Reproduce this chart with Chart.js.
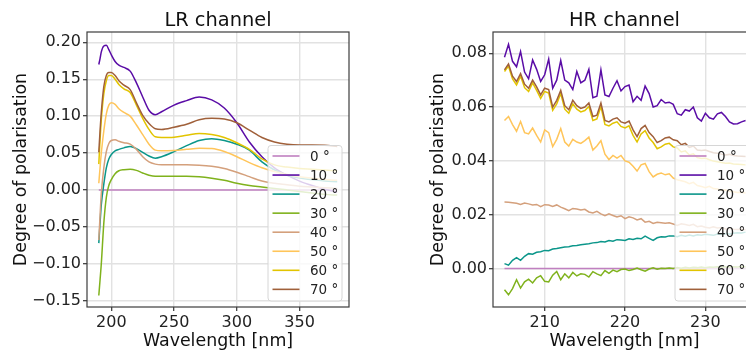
<!DOCTYPE html>
<html>
<head>
<meta charset="utf-8">
<script src="https://cdn.jsdelivr.net/npm/chart.js@4.4.1/dist/chart.umd.min.js"></script>
<style>
  html, body { margin: 0; padding: 0; background: #fff; overflow: hidden; width: 746px; height: 354px; }
  #lr { position: absolute; left: 0; top: 0; }
  #hr { position: absolute; left: 417px; top: 0; }
</style>
</head>
<body>
<canvas id="lr" width="360" height="354"></canvas>
<canvas id="hr" width="350" height="354"></canvas>
<script>
// ---- data ----
const angles = ['0 °', '10 °', '20 °', '30 °', '40 °', '50 °', '60 °', '70 °'];
const colours = ['#c080c0', '#5a0ca6', '#0b968a', '#7fb21c', '#d4a07c', '#ffc55a', '#e2c400', '#a0603a'];

// LR channel
const lrWave = [190, 191, 192, 194, 196, 198, 200, 203, 206, 210, 215, 220, 225, 230, 235, 240,
  250, 260, 270, 280, 290, 300, 310, 320, 330, 340, 350, 360, 370, 380];
const lr0 = [0, 0, 0, 0, 0, 0, 0, 0, 0, 0, 0, 0, 0, 0, 0, 0, 0, 0, 0, 0, 0, 0, 0, 0, 0, 0, 0, 0, 0, 0];
const lr10 = [0.170, 0.178, 0.187, 0.195, 0.196, 0.190, 0.183, 0.174, 0.169, 0.166, 0.161, 0.145, 0.126, 0.108, 0.102, 0.106,
  0.115, 0.121, 0.126, 0.122, 0.111, 0.091, 0.065, 0.045, 0.030, 0.020, 0.012, 0.006, 0.001, -0.003];
const lr20 = [-0.072, -0.045, -0.020, 0.008, 0.030, 0.042, 0.048, 0.053, 0.055, 0.057, 0.059, 0.056, 0.051, 0.046, 0.043, 0.045,
  0.052, 0.060, 0.067, 0.0695, 0.067, 0.062, 0.054, 0.038, 0.027, 0.020, 0.016, 0.014, 0.012, 0.011];
const lr30 = [-0.143, -0.122, -0.100, -0.045, -0.010, 0.006, 0.014, 0.022, 0.026, 0.0275, 0.028, 0.0265, 0.023, 0.020, 0.0185, 0.0185,
  0.0185, 0.0185, 0.018, 0.016, 0.013, 0.009, 0.006, 0.004, 0.002, 0.000, -0.002, -0.004, -0.006, -0.007];
const lr40 = [-0.068, -0.035, -0.005, 0.030, 0.052, 0.063, 0.067, 0.068, 0.066, 0.064, 0.062, 0.055, 0.045, 0.038, 0.035, 0.034,
  0.034, 0.034, 0.0335, 0.032, 0.029, 0.024, 0.018, 0.012, 0.009, 0.007, 0.005, 0.004, 0.003, 0.002];
const lr50 = [0.009, 0.030, 0.050, 0.080, 0.103, 0.115, 0.118, 0.116, 0.110, 0.105, 0.100, 0.088, 0.075, 0.062, 0.054, 0.053,
  0.0535, 0.055, 0.0565, 0.056, 0.052, 0.045, 0.037, 0.030, 0.025, 0.021, 0.018, 0.016, 0.014, 0.013];
const lr60 = [0.035, 0.068, 0.095, 0.130, 0.148, 0.155, 0.155, 0.150, 0.143, 0.137, 0.132, 0.115, 0.097, 0.082, 0.072, 0.071,
  0.0715, 0.074, 0.0765, 0.075, 0.071, 0.064, 0.055, 0.042, 0.034, 0.031, 0.029, 0.028, 0.027, 0.026];
const lr70 = [0.051, 0.080, 0.105, 0.140, 0.155, 0.159, 0.159, 0.155, 0.148, 0.142, 0.136, 0.118, 0.101, 0.090, 0.083, 0.082,
  0.085, 0.089, 0.095, 0.097, 0.096, 0.091, 0.081, 0.071, 0.065, 0.062, 0.061, 0.061, 0.0605, 0.059];
const lrYTicks = [-0.15, -0.10, -0.05, 0.00, 0.05, 0.10, 0.15, 0.20];
const lrXTicks = [200, 250, 300, 350];

// HR channel
const hrWave = [205.0, 205.5, 206.0, 206.5, 207.0, 207.5, 208.0, 208.5, 209.0, 209.5,
  210.0, 210.5, 211.0, 211.5, 212.0, 212.5, 213.0, 213.5, 214.0, 214.5,
  215.0, 215.5, 216.0, 216.5, 217.0, 217.5, 218.0, 218.5, 219.0, 219.5,
  220.0, 220.5, 221.0, 221.5, 222.0, 222.5, 223.0, 223.5, 224.0, 224.5,
  225.0, 225.5, 226.0, 226.5, 227.0, 227.5, 228.0, 228.5, 229.0, 229.5,
  230.0, 230.5, 231.0, 231.5, 232.0, 232.5, 233.0, 233.5, 234.0, 234.5, 235.0];
const hr0 = [0, 0, 0, 0, 0, 0, 0, 0, 0, 0, 0, 0, 0, 0, 0, 0, 0, 0, 0, 0, 0, 0, 0, 0, 0, 0, 0, 0, 0, 0,
  0, 0, 0, 0, 0, 0, 0, 0, 0, 0, 0, 0, 0, 0, 0, 0, 0, 0, 0, 0, 0, 0, 0, 0, 0, 0, 0, 0, 0, 0, 0];
const hr10 = [0.0785, 0.0833, 0.0770, 0.0750, 0.0806, 0.0730, 0.0705, 0.0775, 0.0740, 0.0695,
  0.0720, 0.0778, 0.0670, 0.0700, 0.0773, 0.0700, 0.0690, 0.0665, 0.0732, 0.0690,
  0.0700, 0.0740, 0.0635, 0.0640, 0.0738, 0.0645, 0.0639, 0.0670, 0.0698, 0.0660,
  0.0676, 0.0682, 0.0620, 0.0640, 0.0625, 0.0678, 0.0650, 0.0600, 0.0605, 0.0628,
  0.0615, 0.0618, 0.0610, 0.0575, 0.0570, 0.0590, 0.0585, 0.0600, 0.0560, 0.0548,
  0.0577, 0.0560, 0.0555, 0.0575, 0.0580, 0.0565, 0.0545, 0.0537, 0.0538, 0.0545, 0.0550];
const hr20 = [0.0018, 0.0012, 0.0030, 0.0040, 0.0030, 0.0045, 0.0055, 0.0053, 0.0060, 0.0062,
  0.0067, 0.0066, 0.0072, 0.0074, 0.0077, 0.0080, 0.0081, 0.0084, 0.0085, 0.0088,
  0.0090, 0.0092, 0.0095, 0.0096, 0.0100, 0.0098, 0.0104, 0.0101, 0.0107, 0.0106,
  0.0104, 0.0110, 0.0108, 0.0112, 0.0110, 0.0120, 0.0112, 0.0104, 0.0114, 0.0118,
  0.0117, 0.0121, 0.0121, 0.0118, 0.0123, 0.0120, 0.0124, 0.0121, 0.0125, 0.0123,
  0.0127, 0.0125, 0.0123, 0.0128, 0.0126, 0.0130, 0.0128, 0.0131, 0.0133, 0.0132, 0.0135];
const hr30 = [-0.0079, -0.0098, -0.0075, -0.0042, -0.0073, -0.0050, -0.0040, -0.0054, -0.0035, -0.0027,
  -0.0048, -0.0050, -0.0025, -0.0011, -0.0042, -0.0020, -0.0035, -0.0015, -0.0028, -0.0020,
  -0.0022, -0.0032, -0.0012, -0.0020, -0.0027, -0.0008, -0.0018, -0.0006, -0.0012, -0.0004,
  -0.0002, -0.0008, -0.0004, 0.0001, -0.0005, -0.0010, -0.0002, 0.0002, -0.0003, 0.0001,
  0.0000, 0.0002, 0.0000, 0.0003, 0.0001, 0.0004, 0.0002, 0.0004, 0.0003, 0.0005,
  0.0003, 0.0005, 0.0004, 0.0006, 0.0004, 0.0006, 0.0005, 0.0006, 0.0005, 0.0007, 0.0006];
const hr40 = [0.0247, 0.0246, 0.0244, 0.0242, 0.0238, 0.0243, 0.0240, 0.0236, 0.0238, 0.0230,
  0.0237, 0.0236, 0.0230, 0.0236, 0.0228, 0.0222, 0.0215, 0.0223, 0.0221, 0.0217,
  0.0220, 0.0210, 0.0206, 0.0212, 0.0203, 0.0196, 0.0203, 0.0197, 0.0191, 0.0196,
  0.0185, 0.0192, 0.0188, 0.0180, 0.0185, 0.0172, 0.0175, 0.0167, 0.0172, 0.0170,
  0.0168, 0.0170, 0.0165, 0.0160, 0.0166, 0.0163, 0.0160, 0.0164, 0.0155, 0.0158,
  0.0153, 0.0150, 0.0155, 0.0150, 0.0152, 0.0147, 0.0149, 0.0146, 0.0145, 0.0146, 0.0144];
const hr50 = [0.0550, 0.0565, 0.0535, 0.0510, 0.0546, 0.0505, 0.0500, 0.0522, 0.0495, 0.0470,
  0.0515, 0.0505, 0.0453, 0.0480, 0.0520, 0.0470, 0.0455, 0.0480, 0.0470, 0.0465,
  0.0475, 0.0488, 0.0440, 0.0455, 0.0475, 0.0425, 0.0405, 0.0420, 0.0410, 0.0420,
  0.0400, 0.0395, 0.0380, 0.0362, 0.0385, 0.0390, 0.0360, 0.0340, 0.0350, 0.0355,
  0.0348, 0.0352, 0.0336, 0.0330, 0.0326, 0.0322, 0.0315, 0.0320, 0.0308, 0.0305,
  0.0300, 0.0305, 0.0297, 0.0295, 0.0290, 0.0292, 0.0287, 0.0285, 0.0282, 0.0283, 0.0280];
const hr60 = [0.0732, 0.0752, 0.0705, 0.0682, 0.0715, 0.0672, 0.0658, 0.0690, 0.0662, 0.0632,
  0.0658, 0.0652, 0.0588, 0.0612, 0.0650, 0.0592, 0.0577, 0.0612, 0.0592, 0.0582,
  0.0587, 0.0602, 0.0550, 0.0556, 0.0602, 0.0535, 0.0530, 0.0540, 0.0545, 0.0528,
  0.0522, 0.0530, 0.0495, 0.0470, 0.0500, 0.0512, 0.0485, 0.0468, 0.0445, 0.0452,
  0.0462, 0.0465, 0.0452, 0.0448, 0.0433, 0.0437, 0.0422, 0.0426, 0.0412, 0.0409,
  0.0410, 0.0404, 0.0399, 0.0397, 0.0394, 0.0391, 0.0392, 0.0388, 0.0387, 0.0386, 0.0385];
const hr70 = [0.0738, 0.0760, 0.0715, 0.0695, 0.0724, 0.0685, 0.0670, 0.0700, 0.0675, 0.0645,
  0.0670, 0.0665, 0.0600, 0.0625, 0.0662, 0.0605, 0.0590, 0.0625, 0.0605, 0.0595,
  0.0600, 0.0615, 0.0565, 0.0570, 0.0615, 0.0550, 0.0545, 0.0555, 0.0560, 0.0545,
  0.0540, 0.0548, 0.0515, 0.0490, 0.0520, 0.0532, 0.0505, 0.0490, 0.0468, 0.0475,
  0.0485, 0.0488, 0.0478, 0.0475, 0.0460, 0.0465, 0.0450, 0.0455, 0.0440, 0.0438,
  0.0440, 0.0435, 0.0430, 0.0428, 0.0425, 0.0422, 0.0424, 0.0420, 0.0418, 0.0417, 0.0416];
const hrYTicks = [0.00, 0.02, 0.04, 0.06, 0.08];
const hrXTicks = [210, 220, 230];

// ---- drawing ----
const FONT = 'DejaVu Sans';
const fmt = (v, d) => v.toFixed(d).replace('-', '\u2212');

// frame, legend box and title drawn the matplotlib way
const frame = {
  id: 'frame',
  afterDatasetsDraw(chart) {
    const a = chart.chartArea, c = chart.ctx;
    c.save();
    c.strokeStyle = '#3c3c3c';
    c.lineWidth = 1.2;
    c.strokeRect(a.left, a.top, a.right - a.left, a.bottom - a.top);

    // legend
    const w = 74, x0 = a.right - 7 - w, y0 = 145.5, h = 155.5;
    c.fillStyle = 'rgba(255,255,255,0.8)';
    c.strokeStyle = '#d6d6d6';
    c.lineWidth = 1;
    c.beginPath();
    c.roundRect(x0, y0, w, h, 3);
    c.fill();
    c.stroke();
    c.font = '13.5px "' + FONT + '"';
    c.textBaseline = 'middle';
    c.textAlign = 'left';
    chart.data.datasets.forEach((ds, i) => {
      const y = 156 + i * 19.05;
      c.strokeStyle = ds.borderColor;
      c.lineWidth = 1.6;
      c.beginPath();
      c.moveTo(x0 + 4.5, y);
      c.lineTo(x0 + 31.5, y);
      c.stroke();
      c.fillStyle = '#222';
      c.fillText(ds.label, x0 + 42, y + 1);
    });
    c.restore();
  },
  afterDraw(chart) {
    const a = chart.chartArea, c = chart.ctx;
    c.save();
    c.font = '19.4px "' + FONT + '"';
    c.fillStyle = '#111';
    c.textAlign = 'center';
    c.textBaseline = 'alphabetic';
    c.fillText(chart.options.plugins.frame.title, (a.left + a.right) / 2, 26);
    c.restore();
  }
};

function makeChart(id, title, wave, series, xMin, xMax, yMin, yMax, xTicks, yTicks, yWidth, yDec, smooth) {
  const datasets = series.map((vals, i) => ({
    label: angles[i],
    data: wave.map((w, k) => ({ x: w, y: vals[k] })),
    borderColor: colours[i],
    backgroundColor: colours[i],
    borderWidth: 1.5,
    pointRadius: 0,
    tension: smooth ? 0.35 : 0,
    cubicInterpolationMode: smooth ? 'monotone' : 'default',
    order: series.length - i
  }));
  const tickFont = { family: FONT, size: 16 };
  const labelFont = { family: FONT, size: 17.4 };
  return new Chart(document.getElementById(id), {
    type: 'line',
    data: { datasets: datasets },
    options: {
      responsive: false,
      animation: false,
      devicePixelRatio: 1,
      layout: { padding: { top: 32, right: 11, left: 0, bottom: 0 } },
      plugins: {
        legend: { display: false },
        tooltip: { enabled: false },
        frame: { title: title }
      },
      scales: {
        x: {
          type: 'linear',
          min: xMin,
          max: xMax,
          afterBuildTicks: s => { s.ticks = xTicks.map(v => ({ value: v })); },
          afterFit: s => { s.height = 47; },
          ticks: { color: '#222', font: tickFont, padding: 2, maxRotation: 0, callback: v => String(v) },
          grid: { color: '#e2e2e2', lineWidth: 1.4, tickColor: '#333', tickLength: 4, tickWidth: 1.2 },
          border: { display: false },
          title: { display: true, text: 'Wavelength [nm]', color: '#111', font: labelFont, padding: { top: 0, bottom: 2 } }
        },
        y: {
          min: yMin,
          max: yMax,
          afterBuildTicks: s => { s.ticks = yTicks.map(v => ({ value: v })); },
          afterFit: s => { s.width = yWidth; },
          ticks: { color: '#222', font: tickFont, padding: 2, callback: v => fmt(v, yDec) },
          grid: { color: '#e2e2e2', lineWidth: 1.4, tickColor: '#333', tickLength: 4, tickWidth: 1.2 },
          border: { display: false },
          title: { display: true, text: 'Degree of polarisation', color: '#111', font: labelFont, padding: { top: 11, bottom: 0 } }
        }
      }
    },
    plugins: [frame]
  });
}

makeChart('lr', 'LR channel', lrWave, [lr0, lr10, lr20, lr30, lr40, lr50, lr60, lr70],
  180.6, 389.4, -0.1586, 0.214, lrXTicks, lrYTicks, 87, 2, true);
makeChart('hr', 'HR channel', hrWave, [hr0, hr10, hr20, hr30, hr40, hr50, hr60, hr70],
  203.57, 236.3, -0.01434, 0.0879, hrXTicks, hrYTicks, 76, 2, false);
</script>
</body>
</html>
